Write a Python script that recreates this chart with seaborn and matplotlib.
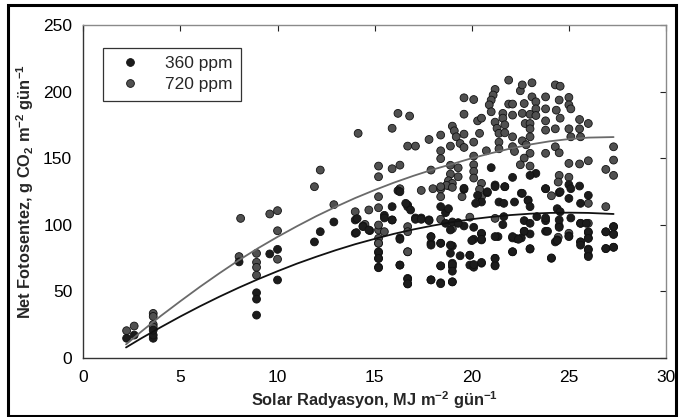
import numpy as np
import pandas as pd
import matplotlib
matplotlib.use("Agg")
import matplotlib.pyplot as plt
import seaborn as sns
from matplotlib.patches import Rectangle
from matplotlib.lines import Line2D

# ---- data ----
# 360 ppm observations
x360 = [2.23, 2.62, 3.6, 3.6, 3.6, 8.02, 8.92, 8.92, 8.92, 9.6, 10.0, 10.0, 11.9, 12.2, 12.9, 14.0, 14.0,
        14.06, 14.4, 14.75, 15.2, 15.2, 15.2, 15.5, 15.9, 16.3, 16.7, 16.7, 16.3, 17.1, 17.4, 17.8, 17.9, 17.9,
        17.9, 18.4, 18.4, 18.4, 18.65, 18.65, 18.9, 19.0, 19.0, 19.0, 19.0, 19.3, 19.6, 19.9, 19.9, 20.1,
        20.5, 20.5, 20.5, 20.1, 21.2, 21.2, 21.35, 21.6, 21.65, 22.1, 22.1, 22.3, 22.55, 22.7, 22.7, 23.0,
        23.0, 23.0, 23.8, 23.8, 24.1, 24.3, 24.4, 24.5, 25.0, 25.6, 25.6, 26.0, 26.0, 26.0, 26.0, 26.9,
        26.9, 27.3, 27.3, 27.3,
        16.2, 16.7, 19.6, 21.2, 20.8, 21.7, 22.55, 22.9, 23.3, 23.0, 23.8, 24.5, 25.0, 25.55, 21.0, 22.1,
        19.6, 20.8, 21.2, 21.7, 22.6, 20.3, 21.4, 21.65, 22.2, 22.9, 23.0, 20.5, 20.2, 18.8, 19.0, 19.3,
        20.1, 20.5, 20.5, 20.0, 21.2, 22.1, 22.4, 22.7, 23.0, 22.1, 18.9, 18.9, 19.4, 19.9, 21.2, 21.2,
        20.5, 20.1, 19.0, 19.0, 19.0,
        23.8, 24.55, 25.1, 25.0, 25.6, 26.0, 24.4, 24.55, 23.35, 23.8, 24.5, 25.1, 25.6, 25.9, 23.9, 24.5,
        25.0, 25.6, 25.6, 26.0, 26.0, 26.0, 26.0, 26.9, 26.9, 27.3, 27.3, 27.3, 24.4, 24.1,
        15.9, 15.5, 15.9, 16.7, 16.85, 17.1, 17.4, 17.8, 14.4, 14.7, 14.1, 16.3, 17.9, 17.9, 15.2, 15.2,
        15.2, 16.3, 16.7, 16.7, 17.9, 18.4, 18.4, 18.4, 16.3, 16.6]
y360 = [14.6, 17.0, 14.6, 17.0, 20.7, 72.0, 48.8, 44.0, 32.0, 78.0, 81.4, 58.4, 87.0, 94.7, 102.0, 103.5, 93.5,
        94.0, 99.0, 95.5, 79.0, 74.6, 68.0, 107.0, 103.5, 69.6, 59.6, 55.4, 90.0, 105.0, 105.0, 103.6, 91.0,
        86.0, 58.5, 56.3, 69.0, 86.0, 109.0, 101.0, 96.0, 68.4, 57.0, 71.0, 84.0, 101.5, 99.0, 69.6, 77.0,
        68.0, 71.0, 93.0, 88.5, 89.0, 74.7, 69.6, 91.0, 100.0, 106.0, 79.6, 90.0, 89.5, 90.0, 95.0, 103.0,
        101.0, 81.6, 93.0, 95.0, 103.0, 74.7, 87.0, 88.5, 99.0, 91.5, 87.0, 101.0, 94.0, 90.0, 81.6, 77.0,
        94.6, 82.0, 98.5, 93.0, 83.0,
        125.5, 114.7, 126.5, 129.8, 124.0, 128.5, 123.6, 118.5, 138.5, 137.0, 127.0, 124.0, 130.0, 129.0,
        142.8, 135.5,
        127.3, 124.7, 128.5, 128.5, 123.5, 122.0, 117.0, 116.0, 117.0, 118.0, 113.5, 117.0, 116.0, 112.0,
        102.0, 101.0, 98.0, 93.5, 89.0, 88.0, 91.0, 91.0, 89.0, 95.0, 82.0, 79.6, 84.6, 78.5, 76.6, 77.0,
        74.6, 69.0, 71.6, 70.0, 70.0, 65.0, 57.0,
        127.0, 124.7, 127.0, 119.7, 116.0, 122.0, 112.0, 109.7, 106.0, 105.0, 103.5, 105.0, 101.0, 101.0,
        95.0, 98.0, 91.0, 87.0, 84.6, 94.6, 89.6, 81.0, 76.0, 94.6, 82.0, 98.5, 92.6, 83.0, 88.0, 75.0,
        113.5, 105.0, 103.5, 113.5, 111.0, 104.0, 104.0, 103.0, 98.5, 96.0, 104.5, 89.0, 90.9, 84.6, 79.6,
        74.6, 67.6, 69.6, 59.0, 55.6, 58.5, 69.0, 55.6, 113.5, 124.7, 116.0]

# 720 ppm observations
x720 = [2.23, 2.62, 3.6, 3.6, 3.6, 3.6, 8.02, 8.1, 8.92, 8.92, 8.92, 8.92, 9.6, 10.0, 10.0, 10.0, 11.9,
        12.2, 12.9, 14.0,
        14.15, 16.2, 16.8, 15.9, 16.7, 17.1, 17.8, 18.4, 19.0, 19.1, 19.6, 20.1, 19.6, 18.4, 18.9, 19.2,
        19.4, 19.6, 19.6, 20.1, 20.1, 20.3, 20.5, 20.4, 20.75, 21.2, 21.1, 21.0, 20.9, 21.0, 21.2, 21.3,
        21.4, 21.4, 21.4, 21.6, 21.6, 21.7, 21.7, 21.9, 21.9, 22.1, 22.1, 22.1, 22.1, 22.2, 22.5, 22.6,
        22.7, 22.6, 22.75, 22.6, 22.8, 23.0, 23.0, 23.0, 23.1, 23.1, 23.3, 23.3, 23.3, 23.0, 23.0, 23.8,
        23.8, 23.8, 23.8, 23.8, 24.3, 24.55, 24.5, 25.0, 25.0, 25.1, 24.35, 24.55, 24.3, 25.0, 25.1, 25.55,
        26.0, 25.55, 25.6, 24.3, 24.5, 26.9, 27.3, 27.3, 27.3, 26.0, 25.55, 25.0, 24.5, 25.0, 24.45, 22.7,
        22.5, 23.0,
        15.2, 15.9, 16.3, 15.2, 17.9, 18.4, 18.9, 18.9, 18.8, 18.85, 19.0, 19.3, 19.3, 20.1, 20.1, 20.1,
        20.5, 20.5, 20.4, 16.3, 15.2, 18.0, 18.7, 17.4, 19.0, 19.5,
        26.0, 25.0, 24.45,
        15.2, 15.2, 16.7, 16.7, 18.4, 18.4, 19.0, 19.9, 21.2, 24.1, 26.0, 26.9,
        15.2, 14.7, 14.5, 15.5, 15.2, 15.2, 15.2, 16.7, 16.7, 18.4, 18.4, 18.4, 17.4, 17.9, 17.9]
y720 = [20.3, 23.8, 33.3, 31.0, 25.0, 23.0, 76.0, 104.7, 78.4, 71.7, 67.9, 62.0, 108.0, 110.5, 95.4, 74.0,
        128.5, 141.0, 115.0, 109.7,
        168.6, 183.6, 181.6, 172.4, 159.0, 159.0, 164.0, 167.3, 174.0, 170.5, 195.3, 194.0, 183.0, 155.5,
        159.0, 166.0, 161.0, 168.0, 158.0, 162.0, 151.5, 178.0, 180.0, 168.6, 155.5, 201.6, 197.4, 193.6,
        190.0, 184.8, 177.0, 172.4, 168.6, 162.0, 157.0, 183.6, 180.0, 175.0, 169.0, 208.6, 190.6, 190.6,
        182.3, 166.0, 158.6, 155.0, 200.6, 205.0, 191.0, 183.6, 176.0, 163.0, 160.0, 182.9, 176.0, 172.0,
        206.6, 196.0, 192.3, 187.0, 182.0, 166.0, 153.6, 196.0, 187.0, 178.0, 171.0, 153.6, 205.0, 204.0,
        193.6, 195.6, 190.0, 187.0, 186.0, 180.0, 172.0, 172.0, 166.0, 179.0, 176.0, 172.0, 166.0, 158.5,
        154.0, 141.5, 158.5, 148.5, 137.0, 148.0, 145.6, 146.0, 137.0, 135.6, 132.0, 150.0, 145.0, 144.0,
        144.0, 142.0, 144.7, 136.0, 141.0, 149.6, 144.6, 138.0, 133.0, 129.0, 131.0, 142.7, 136.0, 145.0,
        140.0, 135.0, 131.0, 121.0, 126.5, 127.0, 121.0, 127.0, 129.5,
        125.7, 128.0, 121.0,
        101.0, 93.5, 90.5, 86.0, 96.0, 79.6, 98.5, 86.0, 104.0, 97.0, 105.6, 104.7,
        121.7, 116.0, 113.5, 112.7, 111.0, 100.2, 94.7, 89.7, 86.0, 99.7, 94.7, 79.6, 126.7, 121.0, 128.5]

# fitted curves
curve_x = [2.2, 3, 4, 5, 6, 7, 8, 9, 10, 11, 12, 13, 14, 15, 16, 17, 18, 19, 20, 21, 22, 23, 24, 25, 26, 27.3]
curve360 = [7.7, 14.7, 23.0, 31.0, 38.6, 45.8, 52.6, 59.0, 65.0, 70.7, 75.9, 80.8, 85.3, 89.3, 93.1, 96.4,
            99.3, 101.9, 104.1, 105.8, 107.2, 108.2, 108.8, 109.0, 108.8, 108.0]
curve720 = [10.0, 19.8, 31.5, 42.5, 53.2, 63.4, 73.2, 82.3, 90.8, 98.8, 106.4, 113.4, 120.0, 126.0, 131.6,
            136.7, 141.4, 145.6, 149.9, 153.7, 157.2, 160.2, 162.6, 164.3, 165.4, 165.8]

series_labels = ["360 ppm", "720 ppm"]

# ---- build tables ----
n1 = min(len(x360), len(y360))
n2 = min(len(x720), len(y720))
df = pd.concat([
    pd.DataFrame({"x": x720[:n2], "y": y720[:n2], "g": series_labels[1]}),
    pd.DataFrame({"x": x360[:n1], "y": y360[:n1], "g": series_labels[0]}),
], ignore_index=True)
curves = pd.concat([
    pd.DataFrame({"x": curve_x, "y": curve720, "g": series_labels[1]}),
    pd.DataFrame({"x": curve_x, "y": curve360, "g": series_labels[0]}),
], ignore_index=True)

sns.set_style("white")
plt.rcParams["font.family"] = ["Liberation Sans", "DejaVu Sans"]
plt.rcParams["mathtext.default"] = "regular"

fig = plt.figure(figsize=(6.81, 4.17), dpi=100)
ax = fig.add_axes([0.1223, 0.1422, 0.978 - 0.1223, 0.94 - 0.1422])

pal = {series_labels[0]: "#1c1c1c", series_labels[1]: "#505050"}
line_pal = {series_labels[0]: "#111111", series_labels[1]: "#6a6a6a"}

sns.scatterplot(data=df, x="x", y="y", hue="g", palette=pal, s=32, edgecolor="#111111",
                linewidth=0.6, ax=ax, legend=False, zorder=3)
sns.lineplot(data=curves, x="x", y="y", hue="g", palette=line_pal, linewidth=1.3, ax=ax,
             legend=False, sort=True, zorder=4)

ax.set_xlim(0, 30)
ax.set_ylim(0, 250)
ax.set_xticks([0, 5, 10, 15, 20, 25, 30])
ax.set_yticks([0, 50, 100, 150, 200, 250])
ax.tick_params(direction="in", length=4, width=0.8, top=True, right=True, labelsize=12.5,
               colors="#222222", labelcolor="black")
ax.tick_params(axis="x", pad=9)
ax.tick_params(axis="y", pad=8)
for side in ["left", "bottom"]:
    ax.spines[side].set_color("#333333")
    ax.spines[side].set_linewidth(1.0)
for side in ["top", "right"]:
    ax.spines[side].set_color("#8a8a8a")
    ax.spines[side].set_linewidth(1.0)

ax.set_xlabel("Solar Radyasyon, MJ m$^{-2}$ gün$^{-1}$", fontsize=11.8, fontweight="bold", labelpad=3)
ax.set_ylabel("Net Fotosentez, g CO$_2$ m$^{-2}$ gün$^{-1}$", fontsize=11.8, fontweight="bold", labelpad=5)

handles = [Line2D([], [], marker="o", linestyle="none", markersize=5.6, markerfacecolor=pal[l],
                  markeredgecolor="#111111", markeredgewidth=0.6) for l in series_labels]
leg = ax.legend(handles, series_labels, loc="upper left", bbox_to_anchor=(0.033, 0.932),
                borderaxespad=0, frameon=True, fancybox=False, fontsize=12.5, handletextpad=0.9,
                labelspacing=0.3, borderpad=0.5, handlelength=2.2)
leg.get_frame().set_edgecolor("black")
leg.get_frame().set_linewidth(0.9)

fig.patches.append(Rectangle((0.0117, 0.003), 0.981, 0.985, transform=fig.transFigure,
                             fill=False, edgecolor="black", linewidth=2.2))

fig.savefig("out.png", dpi=100)
